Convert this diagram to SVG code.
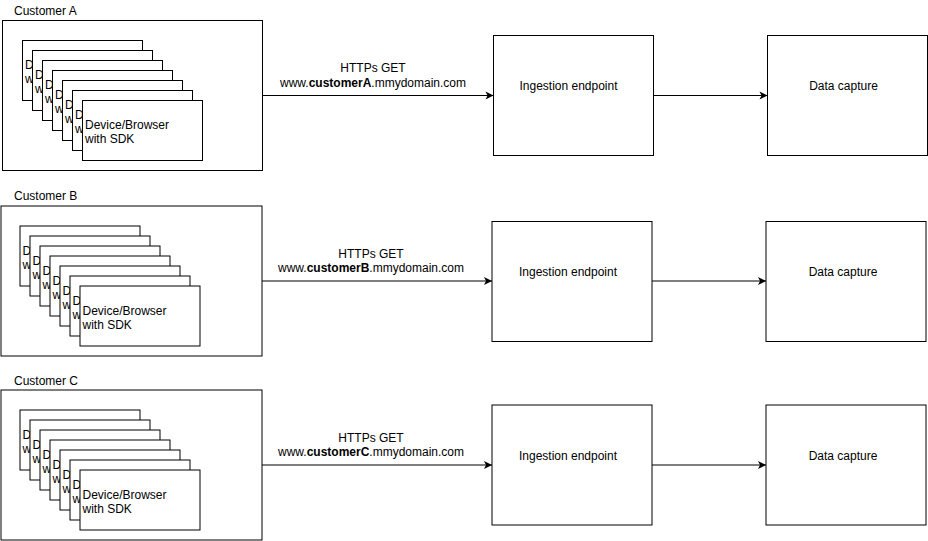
<svg xmlns="http://www.w3.org/2000/svg" width="928" height="541" viewBox="0 0 928 541">
<style>
text{font-family:"Liberation Sans",Arial,Helvetica,sans-serif;font-size:12px;fill:#000}
.box{fill:#fff;stroke:#000;stroke-width:1}
.mid{text-anchor:middle}
.b{font-weight:bold}
.edge{fill:none;stroke:#000;stroke-width:1}
</style>
<defs>
<marker id="arr" viewBox="-9 -5 10 10" refX="0" refY="0" markerWidth="10" markerHeight="10" orient="auto" markerUnits="userSpaceOnUse">
<path d="M0,0 L-8,-4 L-6,0 L-8,4 Z" fill="#000"/>
</marker>
<g id="card">
<rect class="box" x="0" y="0" width="120" height="60"/>
<text x="2.5" y="28.5">Device/Browser</text>
<text x="2.5" y="42.5">with SDK</text>
</g>
</defs>

<!-- Customer A -->
<g id="customerA">
<text x="14" y="15">Customer A</text>
<rect class="box" x="2.5" y="20.5" width="260" height="150"/>
<g id="devicesA">
<use href="#card" x="22.5" y="40.5"/>
<use href="#card" x="32.5" y="50.5"/>
<use href="#card" x="42.5" y="60.5"/>
<use href="#card" x="52.5" y="70.5"/>
<use href="#card" x="62.5" y="80.5"/>
<use href="#card" x="72.5" y="90.5"/>
<use href="#card" x="82.5" y="100.5"/>
</g>
</g>
<g id="ingestionA">
<rect class="box" x="493.5" y="35.5" width="160" height="120"/>
<text class="mid" x="568.5" y="90">Ingestion endpoint</text>
</g>
<g id="captureA">
<rect class="box" x="767.5" y="35.5" width="160" height="120"/>
<text class="mid" x="843.5" y="90">Data capture</text>
</g>

<!-- Customer B -->
<g id="customerB">
<text x="14" y="200">Customer B</text>
<rect class="box" x="1" y="206" width="261" height="150"/>
<g id="devicesB">
<use href="#card" x="20" y="226"/>
<use href="#card" x="30" y="236"/>
<use href="#card" x="40" y="246"/>
<use href="#card" x="50" y="256"/>
<use href="#card" x="60" y="266"/>
<use href="#card" x="70" y="276"/>
<use href="#card" x="80" y="286"/>
</g>
</g>
<g id="ingestionB">
<rect class="box" x="492" y="221.5" width="160" height="120"/>
<text class="mid" x="568" y="276">Ingestion endpoint</text>
</g>
<g id="captureB">
<rect class="box" x="766" y="221.5" width="160" height="120"/>
<text class="mid" x="843" y="276">Data capture</text>
</g>

<!-- Customer C -->
<g id="customerC">
<text x="14" y="385">Customer C</text>
<rect class="box" x="1" y="390" width="261" height="150"/>
<g id="devicesC">
<use href="#card" x="20" y="410"/>
<use href="#card" x="30" y="420"/>
<use href="#card" x="40" y="430"/>
<use href="#card" x="50" y="440"/>
<use href="#card" x="60" y="450"/>
<use href="#card" x="70" y="460"/>
<use href="#card" x="80" y="470"/>
</g>
</g>
<g id="ingestionC">
<rect class="box" x="492" y="405" width="160" height="120"/>
<text class="mid" x="568" y="460">Ingestion endpoint</text>
</g>
<g id="captureC">
<rect class="box" x="766" y="405" width="160" height="120"/>
<text class="mid" x="843" y="460">Data capture</text>
</g>

<!-- Connectors -->
<g id="connectors">
<path class="edge" d="M262.5,95.5 L493.5,95.5" marker-end="url(#arr)"/>
<text class="mid" x="373" y="72">HTTPs GET</text>
<text class="mid" x="373" y="87">www.<tspan class="b">customerA</tspan>.mmydomain.com</text>
<path class="edge" d="M653.5,95.5 L767.5,95.5" marker-end="url(#arr)"/>

<path class="edge" d="M262,281 L492,281" marker-end="url(#arr)"/>
<text class="mid" x="371" y="258">HTTPs GET</text>
<text class="mid" x="371" y="272">www.<tspan class="b">customerB</tspan>.mmydomain.com</text>
<path class="edge" d="M652,281 L766,281" marker-end="url(#arr)"/>

<path class="edge" d="M262,465 L492,465" marker-end="url(#arr)"/>
<text class="mid" x="371" y="442">HTTPs GET</text>
<text class="mid" x="371" y="456">www.<tspan class="b">customerC</tspan>.mmydomain.com</text>
<path class="edge" d="M652,465 L766,465" marker-end="url(#arr)"/>
</g>
</svg>
